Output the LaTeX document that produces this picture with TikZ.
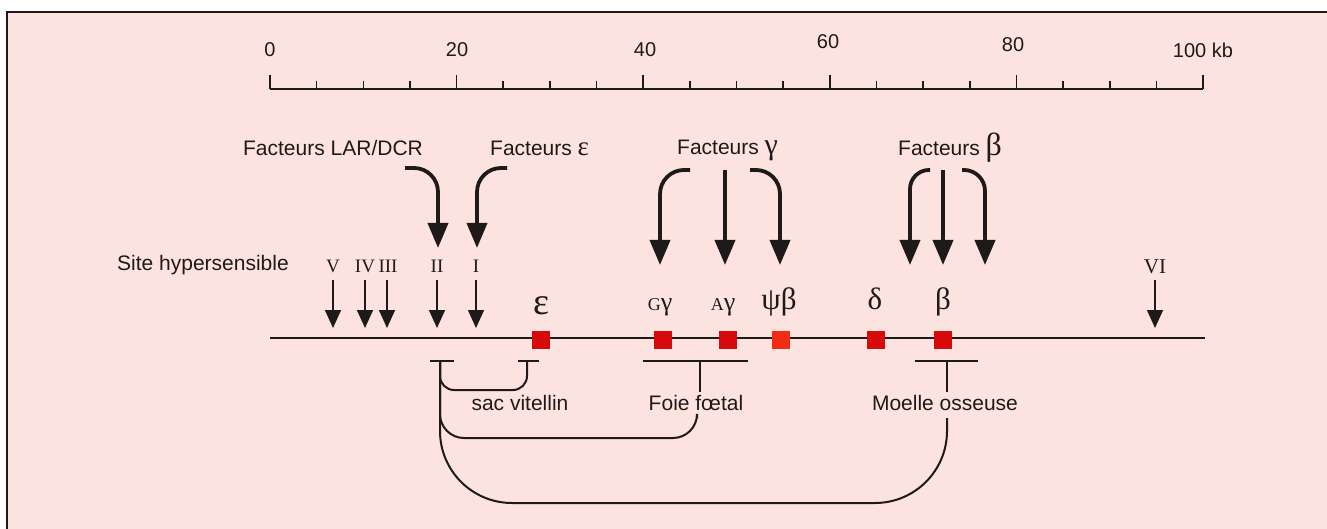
\documentclass[tikz,border=0pt]{standalone}
\usepackage{fontspec}
\setmainfont{Liberation Sans}
\newfontfamily\grk{Liberation Serif}
\usetikzlibrary{arrows.meta}
\definecolor{bgpink}{HTML}{FDE3DF}
\definecolor{genered}{HTML}{D60A0A}
\definecolor{psired}{HTML}{F22C12}
\definecolor{ink}{HTML}{1E1A1A}
\begin{document}
\begin{tikzpicture}[x=1pt,y=-1pt,
  lbl/.style={font=\fontsize{21}{24}\selectfont, text=ink, inner sep=0pt},
  scalelbl/.style={font=\fontsize{20}{22}\selectfont, text=ink, inner sep=0pt},
  rom/.style={font=\grk\fontsize{19}{21}\selectfont, text=ink, inner sep=0pt},
  genelbl/.style={font=\grk\fontsize{31}{34}\selectfont, text=ink, inner sep=0pt},
  genebox/.style={fill=genered, minimum size=18pt, inner sep=0pt},
  bigarr/.style={draw=ink, line width=3.8pt, rounded corners=24pt, -{Triangle[width=20pt,length=25pt]}},
  smallarr/.style={draw=ink, line width=1.6pt, -{Triangle[width=16pt,length=18pt]}},
  thin/.style={draw=ink, line width=1.6pt},
  brk/.style={draw=ink, line width=2pt}]
\useasboundingbox (0,0) rectangle (1327,529);
\fill[white] (0,0) rectangle (1327,529);
\fill[bgpink] (7,12) rectangle (1327,529);
\draw[ink, line width=2pt] (7,529) -- (7,12) -- (1327,12);

% scale
\draw[thin] (270,89) -- (1203,89);
\foreach \k in {0,...,20} {\draw[thin] (270+\k*46.65,81) -- (270+\k*46.65,89);}
\foreach \k in {0,4,...,20} {\draw[thin] (270+\k*46.65,75) -- (270+\k*46.65,89);}
\node[scalelbl] (s0) at (270,50) {0};
\node[scalelbl] (s20) at (457,50) {20};
\node[scalelbl] (s40) at (645,50) {40};
\node[scalelbl] (s60) at (828,42) {60};
\node[scalelbl] (s80) at (1013,45) {80};
\node[scalelbl] (s100) at (1203,50) {100 kb};

% factor labels
\node[lbl] (fLAR) at (333,148) {Facteurs LAR/DCR};
\node[lbl, anchor=west] (fEps) at (490,148) {Facteurs {\grk\fontsize{27}{24}\selectfont ε}};
\node[lbl, anchor=west] (fGam) at (677,150) {Facteurs {\grk\fontsize{30}{24}\selectfont γ}};
\node[lbl, anchor=west] (fBet) at (898,148) {Facteurs {\grk\fontsize{32}{24}\selectfont β}};

% big arrows
\coordinate (lar0) at (405,168); \coordinate (lar1) at (438,168); \coordinate (lar2) at (438,248);
\draw[bigarr] (lar0) -- (lar1) -- (lar2);
\coordinate (ep0) at (507,168); \coordinate (ep1) at (477,168); \coordinate (ep2) at (477,248);
\draw[bigarr] (ep0) -- (ep1) -- (ep2);
\coordinate (gl0) at (690,170); \coordinate (gl1) at (660,170); \coordinate (gl2) at (660,265);
\draw[bigarr] (gl0) -- (gl1) -- (gl2);
\coordinate (gm0) at (725,170); \coordinate (gm2) at (725,265);
\draw[bigarr] (gm0) -- (gm2);
\coordinate (gr0) at (750,170); \coordinate (gr1) at (780,170); \coordinate (gr2) at (780,265);
\draw[bigarr] (gr0) -- (gr1) -- (gr2);
\coordinate (bl0) at (930,170); \coordinate (bl1) at (910,170); \coordinate (bl2) at (910,265);
\draw[bigarr, rounded corners=19pt] (bl0) -- (bl1) -- (bl2);
\coordinate (bm0) at (943,170); \coordinate (bm2) at (943,265);
\draw[bigarr] (bm0) -- (bm2);
\coordinate (br0) at (962,170); \coordinate (br1) at (985,170); \coordinate (br2) at (985,265);
\draw[bigarr, rounded corners=21pt] (br0) -- (br1) -- (br2);

% hypersensitive sites
\node[lbl] (site) at (203,265) {Site hypersensible};
\node[rom] (rV) at (333,266) {V};
\node[rom] (rIV) at (365,266) {IV};
\node[rom] (rIII) at (388,266) {III};
\node[rom] (rII) at (437,266) {II};
\node[rom] (rI) at (476,266) {I};
\node[rom, font=\grk\fontsize{21}{23}\selectfont] (rVI) at (1155,267) {VI};
\foreach \n/\x in {V/333,IV/365,III/387,II/437,I/476,VI/1155} {
  \coordinate (t\n) at (\x,280); \coordinate (b\n) at (\x,328);
  \draw[smallarr] (t\n) -- (b\n);
}

% DNA line and genes
\coordinate (dnaL) at (270,338); \coordinate (dnaR) at (1205,338);
\draw[thin] (dnaL) -- (dnaR);
\node[genebox] (gEps) at (541,340) {};
\node[genebox] (gGG) at (663,340) {};
\node[genebox] (gAG) at (728,340) {};
\node[genebox, fill=psired] (gPsi) at (781,340) {};
\node[genebox] (gDel) at (876,340) {};
\node[genebox] (gBet) at (943,340) {};

\node[genelbl, anchor=base, font=\grk\fontsize{38}{38}\selectfont] (lEps) at (541,314) {ε};
\node[genelbl, anchor=base, font=\grk\fontsize{26}{28}\selectfont] (lGG) at (660,310) {{\fontsize{18}{18}\selectfont G}γ};
\node[genelbl, anchor=base, font=\grk\fontsize{26}{28}\selectfont] (lAG) at (723,310) {{\fontsize{18}{18}\selectfont A}γ};
\node[genelbl, anchor=base] (lPsi) at (779,309) {ψβ};
\node[genelbl, anchor=base] (lDel) at (875,309) {δ};
\node[genelbl, anchor=base] (lBet) at (943,309) {β};

% developmental stage brackets
\draw[brk] (430,361) -- (454,361);
\draw[brk] (518,361) -- (539,361);
\draw[brk] (643,361) -- (748,361);
\draw[brk] (915,361) -- (978,361);
\node[lbl] (sac) at (520,403) {sac vitellin};
\node[lbl] (foie) at (696,403) {Foie fœtal};
\node[lbl] (moelle) at (945,403) {Moelle osseuse};
\coordinate (cL) at (440,361);
\coordinate (cSac) at (527,361);
\coordinate (cFoie) at (700,361);
\coordinate (cMo) at (947,361);
\draw[brk] (cFoie) -- (cFoie |- 0,392);
\draw[brk] (cMo) -- (cMo |- 0,392);
\draw[brk, rounded corners=14pt] (cL) -- (440,390) -- (527,390) -- (cSac);
\draw[brk, rounded corners=24pt] (697,418) -- (697,438) -- (440,438) -- (cL);
\draw[brk, rounded corners=72pt] (947,418) -- (947,503) -- (440,503) -- (cL);
\end{tikzpicture}
\end{document}
